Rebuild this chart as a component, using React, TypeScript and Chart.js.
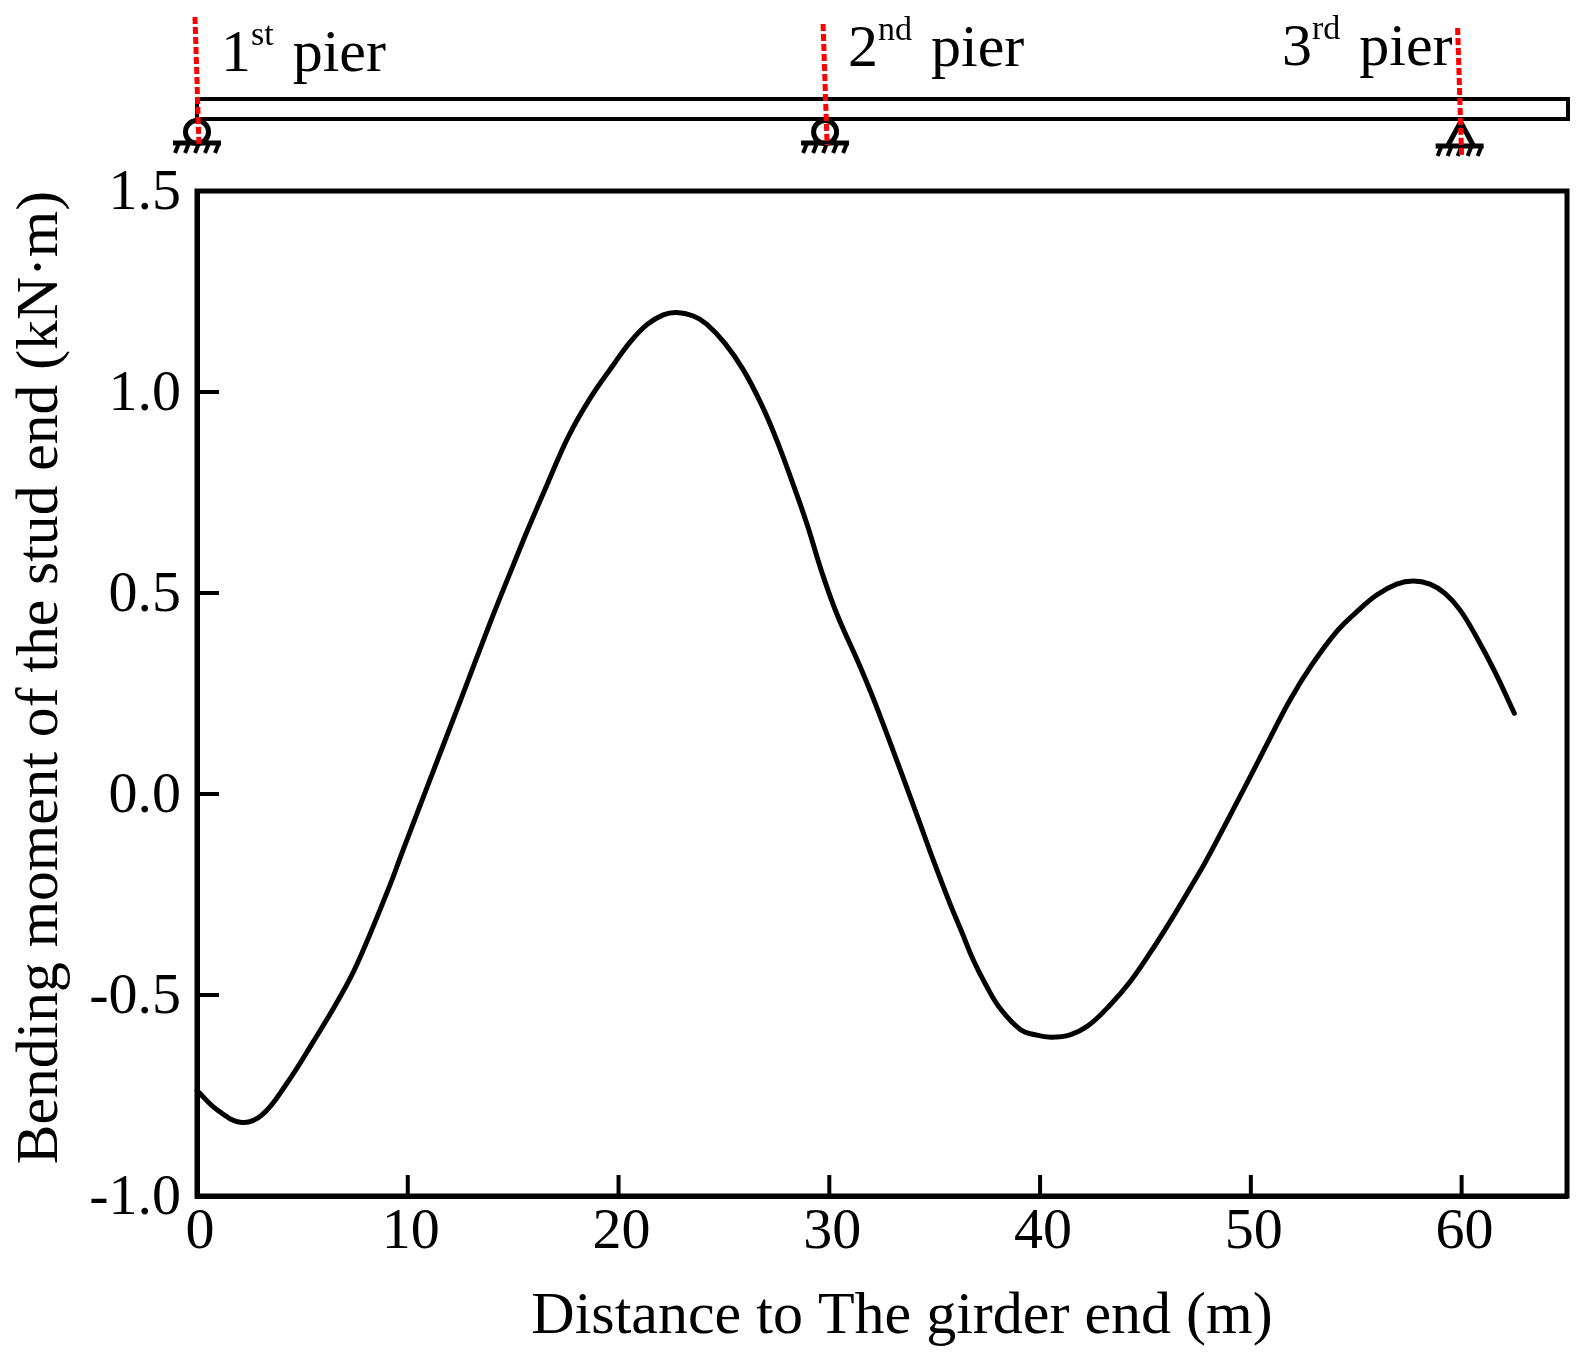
import { useEffect, useRef } from "react";
import Chart from "chart.js/auto";
import type { Plugin } from "chart.js/auto";

const distance = [0, 1.01, 2.12, 3.07, 4.26, 5.52, 6.71, 7.58, 9.16, 9.7, 11.05, 12.48, 13.9, 15.01, 15.72, 16.67, 17.62, 18.65, 19.75, 20.5, 21.33, 22.12, 22.76, 23.55, 24.18, 25.05, 25.92, 26.79, 27.5, 28.21, 28.95, 29.64, 30.35, 31.46, 32.33, 34.07, 34.93, 35.72, 36.3, 36.83, 37.47, 38.1, 39.05, 39.84, 40.55, 41.42, 42.29, 43.32, 44.27, 45.21, 46.16, 47.11, 47.9, 50.06, 50.91, 51.86, 52.89, 54.07, 55.02, 55.97, 56.92, 57.7, 58.5, 59.21, 59.92, 60.71, 61.58, 62.5];
const moment = [-0.738, -0.788, -0.817, -0.799, -0.72, -0.616, -0.512, -0.425, -0.226, -0.15, 0.035, 0.23, 0.425, 0.57, 0.661, 0.777, 0.889, 0.984, 1.067, 1.121, 1.167, 1.192, 1.198, 1.189, 1.169, 1.121, 1.055, 0.968, 0.881, 0.781, 0.67, 0.553, 0.449, 0.317, 0.205, -0.04, -0.164, -0.272, -0.345, -0.413, -0.479, -0.533, -0.585, -0.6, -0.605, -0.599, -0.576, -0.525, -0.467, -0.396, -0.318, -0.235, -0.164, 0.052, 0.139, 0.234, 0.321, 0.404, 0.453, 0.495, 0.522, 0.53, 0.522, 0.499, 0.458, 0.39, 0.304, 0.201];

const pierPositions = [0, 29.8, 60];
const pierOrdinals = ["1", "2", "3"];
const pierSuffixes = ["st", "nd", "rd"];
const beamEnd = 65;
const xTitle = "Distance to The girder end (m)";
const yTitle = "Bending moment of the stud end (kN·m)";

const SERIF = '"Liberation Serif", serif';

const hatch = (ctx: CanvasRenderingContext2D, cx: number, y: number) => {
  ctx.lineWidth = 5;
  ctx.beginPath();
  ctx.moveTo(cx - 24, y);
  ctx.lineTo(cx + 24, y);
  ctx.stroke();
  ctx.lineWidth = 4;
  for (let i = -2; i <= 2; i++) {
    ctx.beginPath();
    ctx.moveTo(cx + i * 10 + 2, y);
    ctx.lineTo(cx + i * 10 - 2, y + 10);
    ctx.stroke();
  }
};

// inward ticks, x title, and the beam with its piers above the plot
const extras: Plugin<"line"> = {
  id: "extras",
  afterDraw(chart) {
    const { ctx } = chart;
    const x = chart.scales.x;
    const y = chart.scales.y;
    const { left: plotLeft, bottom } = chart.chartArea;
    ctx.save();
    ctx.strokeStyle = "#000";
    ctx.fillStyle = "#000";
    ctx.lineWidth = 4;
    for (const t of x.ticks) {
      if (t.value === 0) continue;
      const px = x.getPixelForValue(t.value);
      ctx.beginPath();
      ctx.moveTo(px, bottom);
      ctx.lineTo(px, bottom - 21);
      ctx.stroke();
    }
    for (const t of y.ticks) {
      if (t.value === -1 || t.value === 1.5) continue;
      const py = y.getPixelForValue(t.value);
      ctx.beginPath();
      ctx.moveTo(plotLeft, py);
      ctx.lineTo(plotLeft + 22, py);
      ctx.stroke();
    }

    ctx.font = `60px ${SERIF}`;
    ctx.textAlign = "center";
    ctx.textBaseline = "alphabetic";
    ctx.fillText(xTitle, 902, 1333);
    ctx.textAlign = "left";

    const left = x.getPixelForValue(0);
    const right = x.getPixelForValue(beamEnd);
    ctx.strokeRect(left, 99, right - left + 1, 20);

    pierPositions.forEach((pos, i) => {
      const px = x.getPixelForValue(pos);
      ctx.strokeStyle = "#000";
      ctx.lineWidth = 5;
      if (i < 2) {
        ctx.beginPath();
        ctx.arc(px, 132, 11.5, 0, Math.PI * 2);
        ctx.stroke();
        hatch(ctx, px, 143);
      } else {
        ctx.beginPath();
        ctx.moveTo(px - 14, 146);
        ctx.lineTo(px - 1, 122);
        ctx.lineTo(px + 12, 146);
        ctx.stroke();
        hatch(ctx, px - 2, 146);
      }
      ctx.strokeStyle = "#ff0000";
      ctx.lineWidth = 5;
      ctx.setLineDash([7, 3]);
      ctx.beginPath();
      ctx.moveTo(px - (i === 2 ? 4 : 2), i === 0 ? 17 : i === 1 ? 24 : 28);
      ctx.lineTo(px + (i === 2 ? 0 : 2), i === 2 ? 156 : 145);
      ctx.stroke();
      ctx.setLineDash([]);
    });

    const labelX = [221, 848, 1282];
    const labelY = [71, 66, 65];
    pierOrdinals.forEach((ord, i) => {
      ctx.font = `60px ${SERIF}`;
      ctx.fillText(ord, labelX[i], labelY[i]);
      const w = ctx.measureText(ord).width;
      ctx.font = `34px ${SERIF}`;
      ctx.fillText(pierSuffixes[i], labelX[i] + w, labelY[i] - 26);
      const sw = ctx.measureText(pierSuffixes[i]).width;
      ctx.font = `60px ${SERIF}`;
      ctx.fillText("pier", labelX[i] + w + sw + 19, labelY[i]);
    });
    ctx.restore();
  },
};

export default function App() {
  const canvasRef = useRef<HTMLCanvasElement | null>(null);

  useEffect(() => {
    if (!canvasRef.current) return;
    const chart = new Chart(canvasRef.current, {
      type: "line",
      data: {
        datasets: [
          {
            data: distance.map((d, i) => ({ x: d, y: moment[i] })),
            borderColor: "#000",
            borderWidth: 5,
            borderCapStyle: "round",
            tension: 0.4,
            pointRadius: 0,
            clip: false,
          },
        ],
      },
      options: {
        animation: false,
        responsive: false,
        devicePixelRatio: 1,
        layout: { padding: { top: 191, right: 17, left: 0, bottom: 0 } },
        plugins: { legend: { display: false }, tooltip: { enabled: false } },
        scales: {
          x: {
            type: "linear",
            min: 0,
            max: 65,
            afterBuildTicks: (s) => {
              s.ticks = s.ticks.filter((t) => t.value !== 65);
            },
            afterFit: (s) => {
              s.height = 160;
            },
            grid: { display: false },
            border: { color: "#000", width: 5 },
            ticks: {
              stepSize: 10,
              color: "#000",
              padding: -6,
              labelOffset: 3,
              maxRotation: 0,
              font: { family: SERIF, size: 58 },
            },
          },
          y: {
            min: -1,
            max: 1.5,
            afterFit: (s) => {
              s.width = 197;
            },
            grid: { display: false },
            border: { color: "#000", width: 5 },
            ticks: {
              stepSize: 0.5,
              color: "#000",
              padding: 8,
              labelOffset: 3,
              callback: (v) => Number(v).toFixed(1),
              font: { family: SERIF, size: 58 },
            },
            title: {
              display: true,
              text: yTitle,
              align: "end",
              color: "#000",
              font: { family: SERIF, size: 59.6 },
              padding: { top: 6, bottom: 0 },
            },
          },
        },
      },
      plugins: [
        extras,
        {
          id: "frame",
          afterDatasetsDraw(c) {
            const { ctx, chartArea: a } = c;
            ctx.save();
            ctx.strokeStyle = "#000";
            ctx.lineWidth = 5;
            ctx.strokeRect(a.left, a.top, a.right - a.left, a.bottom - a.top);
            ctx.restore();
          },
        },
      ],
    });
    return () => chart.destroy();
  }, []);

  return (
    <div style={{ position: "absolute", left: 0, top: 0, background: "#fff" }}>
      <canvas ref={canvasRef} width={1584} height={1356} style={{ display: "block" }} />
    </div>
  );
}
